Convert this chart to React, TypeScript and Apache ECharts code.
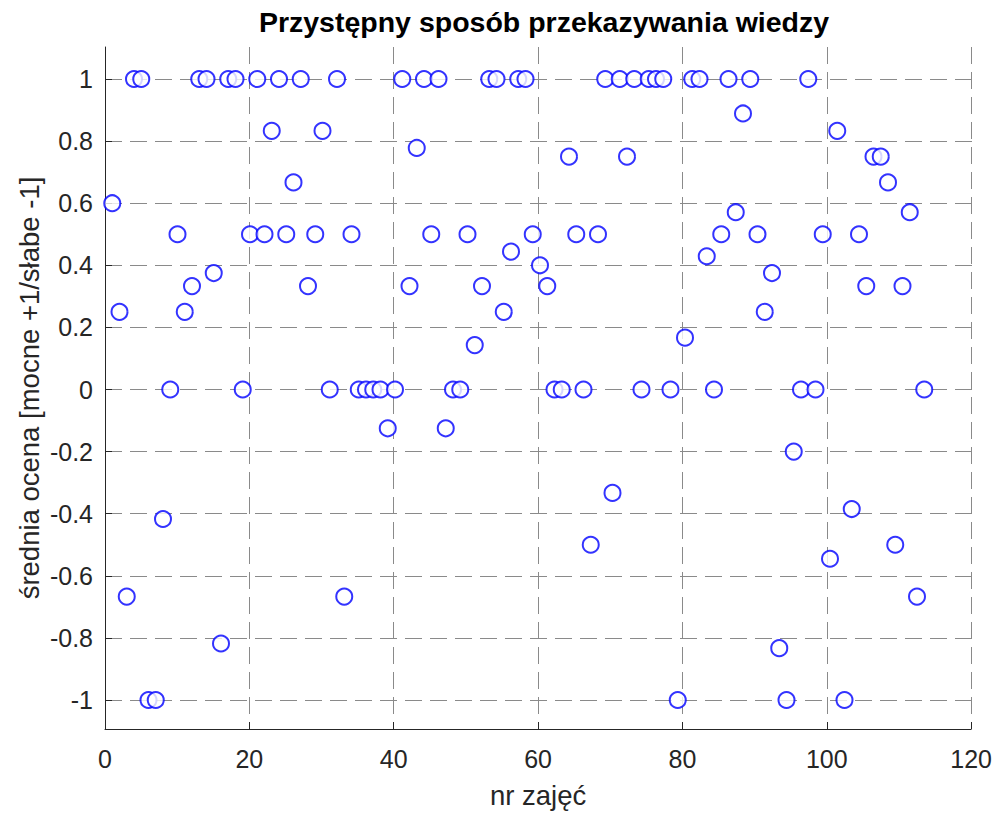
import React, { useEffect, useRef } from "react";
import * as echarts from "echarts";

const lectureNumbers: number[] = Array.from({ length: 113 }, (_, i) => i + 1);
const meanScores: number[] = [
  0.6, 0.25, -0.667, 1, 1, -1, -1, -0.417, 0, 0.5,
  0.25, 0.333, 1, 1, 0.375, -0.818, 1, 1, 0, 0.5,
  1, 0.5, 0.833, 1, 0.5, 0.667, 1, 0.333, 0.5, 0.833,
  0, 1, -0.667, 0.5, 0, 0, 0, 0, -0.125, 0,
  1, 0.333, 0.778, 1, 0.5, 1, -0.125, 0, 0, 0.5,
  0.143, 0.333, 1, 1, 0.25, 0.444, 1, 1, 0.5, 0.4,
  0.333, 0, 0, 0.75, 0.5, 0, -0.5, 0.5, 1, -0.333,
  1, 0.75, 1, 0, 1, 1, 1, 0, -1, 0.167,
  1, 1, 0.429, 0, 0.5, 1, 0.571, 0.889, 1, 0.5,
  0.25, 0.375, -0.833, -1, -0.2, 0, 1, 0, 0.5, -0.545,
  0.833, -1, -0.385, 0.5, 0.333, 0.75, 0.75, 0.667, -0.5, 0.333,
  0.571, -0.667, 0,
];
const xTicks: number[] = [0, 20, 40, 60, 80, 100, 120];
const yTicks: number[] = [-1, -0.8, -0.6, -0.4, -0.2, 0, 0.2, 0.4, 0.6, 0.8, 1];

const titleText = "Przystępny sposób przekazywania wiedzy";
const xName = "nr zajęć";
const yName = "średnia ocena [mocne +1/słabe -1]";

const FONT = "'Liberation Sans', Arial, Helvetica, sans-serif";
const TXT = "#262626";
const GRID = "#8a8a8a";

export default function App() {
  const ref = useRef<HTMLDivElement>(null);
  useEffect(() => {
    document.body.style.margin = "0";
    if (!ref.current) return;
    const chart = echarts.init(ref.current, undefined, { renderer: "svg" });
    const points = lectureNumbers.map((x, i) => [x, meanScores[i]]);
    chart.setOption({
      animation: false,
      backgroundColor: "#ffffff",
      textStyle: { fontFamily: FONT },
      title: {
        text: titleText,
        left: 539,
        top: 2,
        textAlign: "center",
        textStyle: { fontFamily: FONT, fontWeight: "bold", fontSize: 28.5, color: "#000000" },
      },
      grid: [
        { left: 105, right: 20, top: 47, bottom: 83 },
        { left: 105, right: 20, top: 79, bottom: 114 },
      ],
      xAxis: [
        {
          gridIndex: 0,
          type: "value",
          min: xTicks[0],
          max: xTicks[xTicks.length - 1],
          interval: 20,
          name: xName,
          nameLocation: "middle",
          nameGap: 52,
          nameTextStyle: { fontFamily: FONT, fontSize: 27.5, color: TXT },
          axisLine: { show: true, onZero: false, lineStyle: { color: TXT, width: 1 } },
          axisTick: { show: true, inside: true, length: 7, lineStyle: { color: TXT, width: 1 } },
          axisLabel: { show: true, margin: 17, fontFamily: FONT, fontSize: 25, color: TXT },
          splitLine: { show: true, lineStyle: { color: GRID, type: [17, 8], width: 1 } },
        },
        {
          gridIndex: 1,
          type: "value",
          min: xTicks[0],
          max: xTicks[xTicks.length - 1],
          interval: 20,
          show: false,
        },
      ],
      yAxis: [
        {
          gridIndex: 0,
          type: "value",
          min: -1.1,
          max: 1.1,
          name: yName,
          nameLocation: "middle",
          nameGap: 62,
          nameTextStyle: { fontFamily: FONT, fontSize: 27.5, color: TXT },
          axisLine: { show: true, onZero: false, lineStyle: { color: TXT, width: 1 } },
          axisTick: { show: false },
          axisLabel: { show: false },
          splitLine: { show: false },
        },
        {
          gridIndex: 1,
          type: "value",
          min: yTicks[0],
          max: yTicks[yTicks.length - 1],
          interval: 0.2,
          axisLine: { show: false },
          axisTick: { show: true, inside: true, length: 7, lineStyle: { color: TXT, width: 1 } },
          axisLabel: {
            show: true,
            margin: 12,
            fontFamily: FONT,
            fontSize: 25,
            color: TXT,
            formatter: (v: number) => String(Math.round(v * 10) / 10),
          },
          splitLine: { show: true, lineStyle: { color: GRID, type: [17, 8], width: 1 } },
        },
      ],
      series: [
        {
          type: "scatter",
          xAxisIndex: 1,
          yAxisIndex: 1,
          data: points,
          clip: false,
          symbol: "emptyCircle",
          symbolSize: 16,
          itemStyle: { color: "#0000ff", borderColor: "#0000ff", borderWidth: 1.1 },
          emphasis: { disabled: true },
        },
      ],
    });
    return () => chart.dispose();
  }, []);
  return <div ref={ref} style={{ width: 995, height: 814 }} />;
}
